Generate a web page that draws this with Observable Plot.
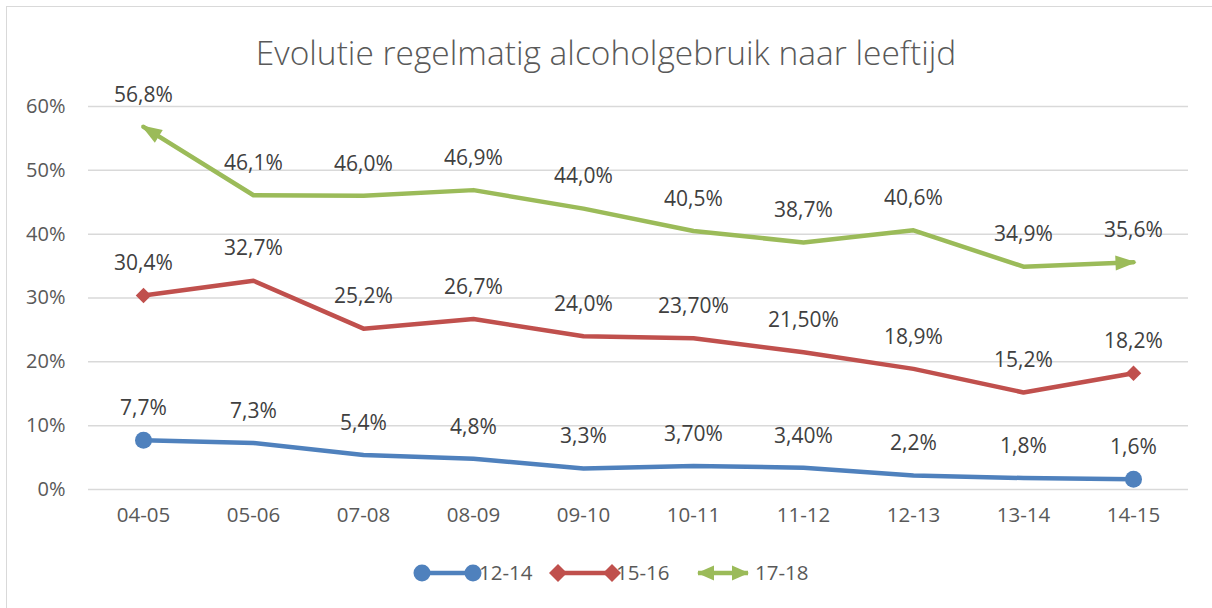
<!DOCTYPE html>
<html>
<head>
<meta charset="utf-8">
<script src="https://cdn.jsdelivr.net/npm/d3@7"></script>
<script src="https://cdn.jsdelivr.net/npm/@observablehq/plot@0.6"></script>
<style>
  html, body { margin: 0; padding: 0; background: #fff; overflow: hidden; }
  #wrap { position: relative; width: 1212px; height: 608px; overflow: hidden; font-family: "Open Sans", sans-serif; color: #595959; }
  #frame { position: absolute; left: 6px; top: 6px; width: 1400px; height: 800px; border: 1.5px solid #D9D9D9; box-sizing: border-box; }
  #title { position: absolute; left: 0; width: 1212px; top: 28px; text-align: center; font-size: 33.5px; font-weight: 300; color: #595959; line-height: 48px; }
  #chart { position: absolute; left: 0; top: 0; }
  #legend { position: absolute; top: 557px; left: 0; width: 1212px; height: 32px; }
</style>
</head>
<body>
<div id="wrap">
  <div id="frame"></div>
  <div id="chart"></div>
  <div id="title">Evolutie regelmatig alcoholgebruik naar leeftijd</div>
  <div id="legend"></div>
</div>
<script>
const seasons = ["04-05","05-06","07-08","08-09","09-10","10-11","11-12","12-13","13-14","14-15"];
const seriesNames = ["12-14","15-16","17-18"];
const colors = ["#4F81BD","#C0504D","#9BBB59"];
const values1214 = [7.7, 7.3, 5.4, 4.8, 3.3, 3.7, 3.4, 2.2, 1.8, 1.6];
const values1516 = [30.4, 32.7, 25.2, 26.7, 24.0, 23.7, 21.5, 18.9, 15.2, 18.2];
const values1718 = [56.8, 46.1, 46.0, 46.9, 44.0, 40.5, 38.7, 40.6, 34.9, 35.6];
const labels1214 = ["7,7%","7,3%","5,4%","4,8%","3,3%","3,70%","3,40%","2,2%","1,8%","1,6%"];
const labels1516 = ["30,4%","32,7%","25,2%","26,7%","24,0%","23,70%","21,50%","18,9%","15,2%","18,2%"];
const labels1718 = ["56,8%","46,1%","46,0%","46,9%","44,0%","40,5%","38,7%","40,6%","34,9%","35,6%"];
const yTicks = [0, 0.1, 0.2, 0.3, 0.4, 0.5, 0.6];

const allValues = [values1214, values1516, values1718];
const allLabels = [labels1214, labels1516, labels1718];
const data = [];
seriesNames.forEach((s, si) => {
  seasons.forEach((season, i) => {
    data.push({series: s, season, value: allValues[si][i] / 100, label: allLabels[si][i], idx: i});
  });
});
const colorOf = Object.fromEntries(seriesNames.map((s, i) => [s, colors[i]]));

const svgns = "http://www.w3.org/2000/svg";
function arrowMarker(color, context) {
  const doc = context.document;
  const m = doc.createElementNS(svgns, "marker");
  m.setAttribute("viewBox", "-20 -8 24 16");
  m.setAttribute("markerWidth", "24");
  m.setAttribute("markerHeight", "16");
  m.setAttribute("markerUnits", "userSpaceOnUse");
  m.setAttribute("refX", "0");
  m.setAttribute("refY", "0");
  m.setAttribute("orient", "auto-start-reverse");
  const p = doc.createElementNS(svgns, "path");
  p.setAttribute("d", "M-18,-7.5L3,0L-18,7.5Z");
  p.setAttribute("fill", color);
  p.setAttribute("stroke", "none");
  m.appendChild(p);
  return m;
}

const greenData = data.filter(d => d.series === "17-18");
const otherData = data.filter(d => d.series !== "17-18");

const chart = Plot.plot({
  width: 1212,
  height: 608,
  marginTop: 106,
  marginBottom: 119,
  marginLeft: 88,
  marginRight: 24,
  style: {fontFamily: "'Open Sans', sans-serif", fontSize: "20px", color: "#595959", background: "transparent", overflow: "visible"},
  x: {type: "point", domain: seasons, padding: 0.5, label: null},
  y: {domain: [0, 0.6], label: null},
  marks: [
    Plot.ruleY(yTicks, {stroke: "#D9D9D9", strokeWidth: 1.5}),
    Plot.axisY({ticks: yTicks, tickFormat: d3.format(".0%"), tickSize: 0, tickPadding: 23, label: null, fontSize: 20}),
    Plot.axisX({tickSize: 0, tickPadding: 18, label: null, fontSize: 20.5}),
    Plot.line(otherData, {x: "season", y: "value", z: "series", stroke: d => colorOf[d.series], strokeWidth: 4.5, curve: "linear", strokeLinejoin: "round"}),
    Plot.line(greenData, {x: "season", y: "value", stroke: colorOf["17-18"], strokeWidth: 4.5, markerStart: arrowMarker, markerEnd: arrowMarker, strokeLinejoin: "round"}),
    Plot.dot(data.filter(d => d.series === "12-14" && (d.idx === 0 || d.idx === 9)), {x: "season", y: "value", r: 8.5, fill: colorOf["12-14"], symbol: "circle"}),
    Plot.dot(data.filter(d => d.series === "15-16" && (d.idx === 0 || d.idx === 9)), {x: "season", y: "value", r: 7, fill: colorOf["15-16"], symbol: "diamond2"}),
    Plot.text(data, {x: "season", y: "value", text: "label", dy: -32, fill: "#404040", fontSize: 21})
  ]
});
document.getElementById("chart").appendChild(chart);

// Legend
const legend = d3.select("#legend");
const legendItems = [
  {name: "12-14", color: colors[0], kind: "circle", x0: 422, x1: 473, tx: 479},
  {name: "15-16", color: colors[1], kind: "diamond", x0: 558, x1: 612, tx: 616},
  {name: "17-18", color: colors[2], kind: "arrow", x0: 698, x1: 748, tx: 755}
];
const lsvg = legend.append("svg").attr("width", 1212).attr("height", 32).style("position", "absolute").style("left", 0).style("top", 0);
legendItems.forEach(it => {
  const cy = 16;
  lsvg.append("line").attr("x1", it.x0).attr("x2", it.x1).attr("y1", cy).attr("y2", cy).attr("stroke", it.color).attr("stroke-width", 4.5);
  [it.x0, it.x1].forEach((x, k) => {
    if (it.kind === "circle") lsvg.append("circle").attr("cx", x).attr("cy", cy).attr("r", 8.5).attr("fill", it.color);
    else if (it.kind === "diamond") lsvg.append("path").attr("d", `M${x},${cy-9}L${x+9},${cy}L${x},${cy+9}L${x-9},${cy}Z`).attr("fill", it.color);
    else {
      const dir = k === 0 ? -1 : 1;
      lsvg.append("path").attr("d", `M${x+dir*1},${cy}L${x-dir*16},${cy-7.5}L${x-dir*16},${cy+7.5}Z`).attr("fill", it.color);
    }
  });
  lsvg.append("text").attr("x", it.tx).attr("y", cy).attr("dy", "0.35em").attr("fill", "#595959")
    .style("font-family", "'Open Sans', sans-serif").style("font-size", "20.5px").text(it.name);
});
</script>
</body>
</html>
